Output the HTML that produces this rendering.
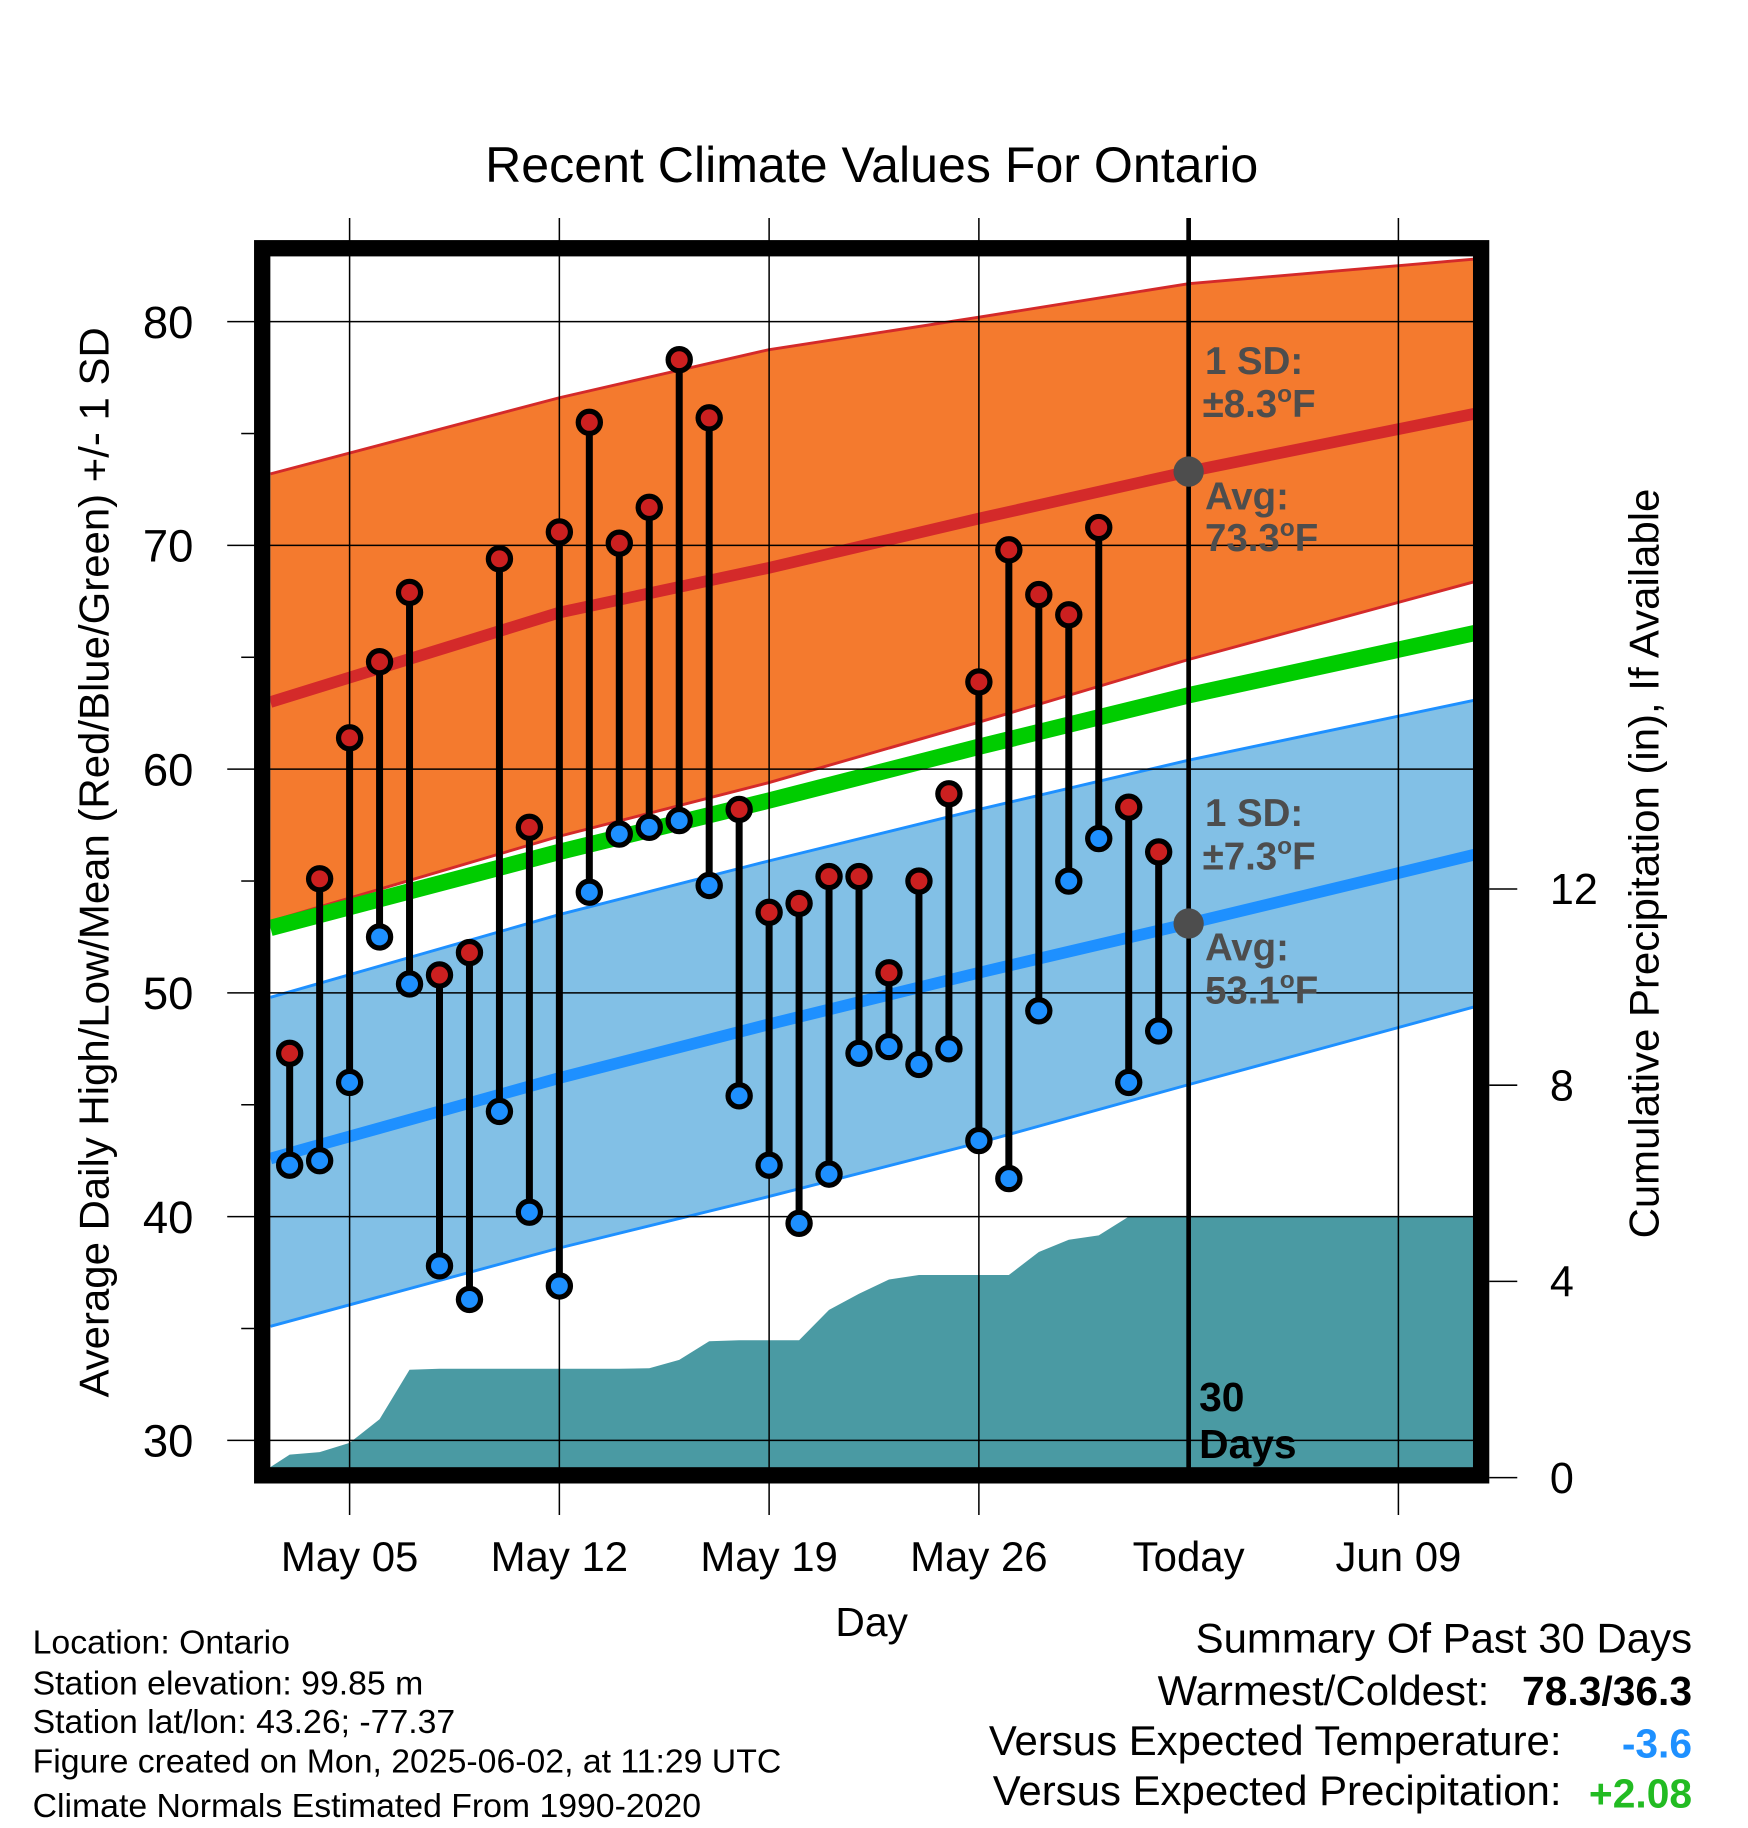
<!DOCTYPE html>
<html><head><meta charset="utf-8"><style>
html,body{margin:0;padding:0;background:#fff}
svg{display:block}
text{font-family:"Liberation Sans",Arial,sans-serif}
</style></head><body>
<svg id="chart" width="1748" height="1828" viewBox="0 0 1500 1568.6" xmlns="http://www.w3.org/2000/svg">
<text x="748" y="156" font-size="43" text-anchor="middle">Recent Climate Values For Ontario</text>
<g id="bands"></g>
<g id="grid"></g>
<g id="marks"></g>
<g id="frame"></g>
<g id="labels"></g>
</svg>
<script>
// ---- data ----
const normDays = [-2.64, 7, 14, 21, 28, 37.6]; // days since May 05
const normHighUpper = [73.2, 76.6, 78.75, 80.2, 81.7, 82.8];
const normHigh = [63.0, 67.0, 69.0, 71.2, 73.3, 75.9];
const normHighLower = [53.2, 57.0, 59.4, 62.1, 64.9, 68.4];
const normMean = [52.9, 56.3, 58.6, 61.0, 63.3, 66.1];
const normLowUpper = [49.8, 53.5, 55.9, 58.2, 60.4, 63.1];
const normLow = [42.6, 46.2, 48.6, 50.9, 53.1, 56.2];
const normLowLower = [35.1, 38.6, 40.9, 43.3, 45.9, 49.4];
const obsDays = [-2,-1,0,1,2,3,4,5,6,7,8,9,10,11,12,13,14,15,16,17,18,19,20,21,22,23,24,25,26,27];
const highs = [47.3,55.1,61.4,64.8,67.9,50.8,51.8,69.4,57.4,70.6,75.5,70.1,71.7,78.3,75.7,58.2,53.6,54.0,55.2,55.2,50.9,55.0,58.9,63.9,69.8,67.8,66.9,70.8,58.3,56.3];
const lows = [42.3,42.5,46.0,52.5,50.4,37.8,36.3,44.7,40.2,36.9,54.5,57.1,57.4,57.7,54.8,45.4,42.3,39.7,41.9,47.3,47.6,46.8,47.5,43.4,41.7,49.2,55.0,56.9,46.0,48.3];
const precip = [0.47,0.52,0.71,1.19,2.2,2.22,2.22,2.22,2.22,2.22,2.22,2.22,2.23,2.4,2.78,2.8,2.8,2.8,3.42,3.75,4.04,4.13,4.13,4.13,4.13,4.6,4.85,4.94,5.32,5.32];
const xTickDays = [0,7,14,21,28,35];
const xTickLabels = ["May 05","May 12","May 19","May 26","Today","Jun 09"];
const yTicks = [30,40,50,60,70,80];
const pTicks = [0,4,8,12];
const todayHigh = 73.3, todayLow = 53.1;

// ---- axes ----
const L=232,R=1268,T=220,B=1260;
const x = d => 300 + d*180/7;
const y = v => 276 + (80-v)*19.2;
const yp = p => 1268 - p*42.1;
const NS="http://www.w3.org/2000/svg";
function el(tag, attrs, parent, txt){const e=document.createElementNS(NS,tag);for(const k in attrs)e.setAttribute(k,attrs[k]);if(txt!==undefined)e.textContent=txt;parent.appendChild(e);return e;}
const bands=document.getElementById('bands'),grid=document.getElementById('grid'),marks=document.getElementById('marks'),frame=document.getElementById('frame'),labels=document.getElementById('labels');

function line(arr){return normDays.map((d,i)=>x(d).toFixed(1)+','+y(arr[i]).toFixed(1)).join(' ');}
function band(up,lo,fill,parent,name){
  const pts=normDays.map((d,i)=>x(d)+','+y(up[i])).concat(normDays.slice().reverse().map((d,j)=>{const i=normDays.length-1-j;return x(d)+','+y(lo[i]);}));
  const p=el('polygon',{points:pts.join(' '),fill:fill},parent);
  
  
}
const clip=el('clipPath',{id:'pc'},document.getElementById('chart'));
el('rect',{x:L,y:T,width:R-L,height:B-T},clip);
bands.setAttribute('clip-path','url(#pc)');
band(normHighUpper,normHighLower,'#f47a2e',bands,'high-sd-band');
band(normLowUpper,normLowLower,'#82c0e6',bands,'low-sd-band');
const lineSpecs=[[normHighUpper,'#d42a2a',2.5,'high-upper-line'],[normHighLower,'#d42a2a',2.5,'high-lower-line'],[normHigh,'#d42a2a',10,'normal-high-line'],[normMean,'#00cc00',14,'normal-mean-line'],[normLowUpper,'#1e90ff',2.5,'low-upper-line'],[normLowLower,'#1e90ff',2.5,'low-lower-line'],[normLow,'#1e90ff',10,'normal-low-line']];
lineSpecs.forEach(s=>{const p=el('polyline',{points:line(s[0]),fill:'none',stroke:s[1],'stroke-width':s[2],'stroke-linejoin':'round'},bands);
  
  });
// precip area
let pp=[L+','+B, L+','+(B-1)];
obsDays.forEach((d,i)=>pp.push(x(d)+','+yp(precip[i])));
pp.push(R+','+yp(precip[precip.length-1]));pp.push(R+','+B);
const pa=el('polygon',{points:pp.join(' '),fill:'#4a9aa3'},bands);



// grid
yTicks.forEach(v=>{const g=el('line',{x1:195,x2:R,y1:y(v),y2:y(v),stroke:'#000','stroke-width':1.3},grid);
  
  
  const t=el('text',{x:166,y:y(v)+14,'font-size':39,'text-anchor':'end'},labels,String(v));
  
  });
[35,45,55,65,75].forEach(v=>{el('line',{x1:207,x2:218,y1:y(v),y2:y(v),stroke:'#000','stroke-width':1.3},grid);});
xTickDays.forEach((d,i)=>{if(i!==4){const g=el('line',{x1:x(d),x2:x(d),y1:187,y2:1300,stroke:'#000','stroke-width':1.3},grid);
  
  }
  const t=el('text',{x:x(d),y:1348,'font-size':36,'text-anchor':'middle'},labels,xTickLabels[i]);
  
  });
pTicks.forEach(p=>{el('line',{x1:1278,x2:1302,y1:yp(p),y2:yp(p),stroke:'#000','stroke-width':1.3},grid);
  const t=el('text',{x:1330,y:yp(p)+13,'font-size':37},labels,String(p));
  
  });
// today line
const tl=el('line',{x1:x(28),x2:x(28),y1:187,y2:B,stroke:'#000','stroke-width':4},grid);



// marks
obsDays.forEach((d,i)=>{
  const s=el('line',{x1:x(d),x2:x(d),y1:y(highs[i]),y2:y(lows[i]),stroke:'#000','stroke-width':6},marks);
  
  
  const h=el('circle',{cx:x(d),cy:y(highs[i]),r:9.5,fill:'#cc2020',stroke:'#000','stroke-width':4.5},marks);
  
  
  const l=el('circle',{cx:x(d),cy:y(lows[i]),r:9.5,fill:'#1e90ff',stroke:'#000','stroke-width':4.5},marks);
  
  
});
[todayHigh,todayLow].forEach(v=>{const c=el('circle',{cx:x(28),cy:y(v),r:13,fill:'#4d4d4d'},marks);
  
  });

// frame
const fr=el('rect',{x:225,y:213,width:1046,height:1053,fill:'none',stroke:'#000','stroke-width':14},frame);


</script>
<script>
const lab=document.getElementById('labels');
function tx(x,y,s,str,extra,name){const e=document.createElementNS("http://www.w3.org/2000/svg",'text');e.setAttribute('x',x);e.setAttribute('y',y);e.setAttribute('font-size',s);for(const k in extra)e.setAttribute(k,extra[k]);e.innerHTML=str;
  
  
  lab.appendChild(e);return e;}
const an={fill:'#4d4d4d','font-weight':'bold'};
const deg='<tspan font-size="21" dy="-13">o</tspan><tspan dy="13">F</tspan>';
tx(1034,321,33,'1 SD:',an,'high-sd-label');
tx(1032,358,33,'±8.3'+deg,an,'high-sd-value');
tx(1034,437,33,'Avg:',an,'high-avg-label');
tx(1034,473,33,'73.3'+deg,an,'high-avg-value');
tx(1034,709,33,'1 SD:',an,'low-sd-label');
tx(1032,746,33,'±7.3'+deg,an,'low-sd-value');
tx(1034,824,33,'Avg:',an,'low-avg-label');
tx(1034,861,33,'53.1'+deg,an,'low-avg-value');
tx(1029,1211,35,'30',{'font-weight':'bold'},'days-label-number');
tx(1029,1251,35,'Days',{'font-weight':'bold'},'days-label-text');
tx(748,1404,35,'Day',{'text-anchor':'middle'},'x-axis-title');
tx(0,0,36,'Average Daily High/Low/Mean (Red/Blue/Green) +/- 1 SD',{'text-anchor':'middle',transform:'translate(93,740) rotate(-90)'},'y-axis-title');
tx(0,0,36,'Cumulative Precipitation (in), If Available',{'text-anchor':'middle',transform:'translate(1423,741) rotate(-90)'},'precip-axis-title');
['Location: Ontario','Station elevation: 99.85 m','Station lat/lon: 43.26; -77.37','Figure created on Mon, 2025-06-02, at 11:29 UTC','Climate Normals Estimated From 1990-2020'].forEach((s,i)=>tx(28,[1419,1454,1487,1521,1559][i],29,s,{},'station-info-line'));
tx(1452,1418,36,'Summary Of Past 30 Days',{'text-anchor':'end'},'summary-title');
tx(1278,1463,36,'Warmest/Coldest:',{'text-anchor':'end'},'warmest-coldest-label');
tx(1452,1463,35,'78.3/36.3',{'text-anchor':'end','font-weight':'bold'},'warmest-coldest-value');
tx(1340,1506,36,'Versus Expected Temperature:',{'text-anchor':'end'},'temp-anomaly-label');
tx(1452,1508,35,'-3.6',{'text-anchor':'end','font-weight':'bold',fill:'#1e90ff'},'temp-anomaly-value');
tx(1340,1549,36,'Versus Expected Precipitation:',{'text-anchor':'end'},'precip-anomaly-label');
tx(1452,1551,35,'+2.08',{'text-anchor':'end','font-weight':'bold',fill:'#22bb22'},'precip-anomaly-value');
</script>
</body></html>
